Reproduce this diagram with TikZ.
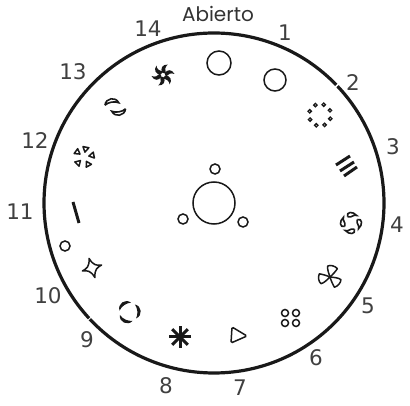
\documentclass[tikz,border=0pt]{standalone}
\usepackage{fontspec}
\setmainfont{Poppins}
\newfontfamily\digitfont{DejaVu Sans}
\tikzset{
  x=1pt,y=-1pt,
  ringline/.style={line width=3.2pt,draw=black!90},
  lab/.style={font=\fontsize{20}{22}\selectfont,text=black!80,inner sep=0pt},
  num/.style={font=\digitfont\fontsize{21.5}{23}\selectfont,text=black!75,inner sep=0pt},
  icon/.style={line width=1.5pt,draw=black!90},
  bar/.style={line width=3pt,draw=black!90}
}
\newcommand{\crescentpath}{(0,-7) .. controls (7,-5) and (7,5) .. (0,7) .. controls (2.5,3) and (2.5,-3) .. (0,-7)}
\begin{document}
\begin{tikzpicture}
\useasboundingbox (0,0) rectangle (410,406);
% ring
\coordinate (c) at (214,203);
\draw[ringline] (c) ++(-44:170) arc[start angle=-44,end angle=-222.7,radius=170];
\draw[ringline] (c) ++(136.9:170) arc[start angle=136.9,end angle=-43.4,radius=170];
% labels
\node[lab] (open) at (218,14) {Abierto};
\node[num] (l1) at (285,33) {1};
\node[num] (l2) at (353,83) {2};
\node[num] (l3) at (393,147) {3};
\node[num] (l4) at (397,225) {4};
\node[num] (l5) at (368,306) {5};
\node[num] (l6) at (316,358) {6};
\node[num] (l7) at (240,388) {7};
\node[num] (l8) at (166,386) {8};
\node[num] (l9) at (87,340) {9};
\node[num] (l10) at (48,296) {10};
\node[num] (l11) at (20,212) {11};
\node[num] (l12) at (35,141) {12};
\node[num] (l13) at (73,72) {13};
\node[num] (l14) at (148,29) {14};
% centre
\draw[icon] (c) circle[radius=21];
\draw[icon] (215,169) circle[radius=5];
\draw[icon] (183,219) circle[radius=5];
\draw[icon] (243,222) circle[radius=5];
% open, 1
\draw[icon] (219,63) circle[radius=12];
\draw[icon] (275,80) circle[radius=11];
% 2 dots
\foreach \a in {20,65,...,335}
  \draw[line width=1.3pt,draw=black!90] (320,115) ++(\a:11) circle[radius=1.7];
% 3 lines
\draw[bar] (336,165) -- (350,156);
\draw[bar] (340,171) -- (354,162);
\draw[bar] (344,176) -- (357,167);
% 4 commas
\begin{scope}[shift={(351,223)}]
\foreach \a in {85,-5,-95,175}
  \draw[line width=1.6pt,draw=black!90,rotate=\a] (6,-4) .. controls (11,-6) and (12,1) .. (8,5) .. controls (9,1) and (5,1) .. (6,-4);
\end{scope}
% 5 fan
\begin{scope}[shift={(330,277)}]
\foreach \a in {75,-170,-40}
  \draw[icon,rotate=\a,line join=round] (0,0) .. controls (3,-2) and (7,-5) .. (10,-5) .. controls (12,-3) and (12,2) .. (10,5) .. controls (7,4) and (3,2) .. (0,0);
\end{scope}
% 6
\foreach \p in {(285,313),(296,313),(285,323),(296,323)}
  \draw[icon] \p circle[radius=3.5];
% 7
\draw[icon,rounded corners=1.5pt] (232,327) -- (247,336) -- (231,343) -- cycle;
% 8 asterisk
\foreach \a in {0,45,90,135}
  \draw[bar] (180,337) ++(\a:11) -- ++(\a+180:22);
% 9 crescents
\begin{scope}[shift={(129,312)}]
\foreach \a in {125,5,-115}
  \fill[black!90,rotate=\a,shift={(6.5,0)}] \crescentpath;
\end{scope}
% 10 star
\begin{scope}[shift={(92,268)},rotate=17]
\draw[icon,line join=round] (10,0) .. controls (5,-1) and (2,-2) .. (0,-10) .. controls (-2,-2) and (-5,-1) .. (-10,0) .. controls (-5,1) and (-2,2) .. (0,10) .. controls (2,2) and (5,1) .. (10,0) -- cycle;
\end{scope}
% small circle, bar
\draw[icon] (65,246) circle[radius=5];
\draw[bar] (73,202) -- (79,223);
% 12
\begin{scope}[shift={(84,157)}]
\foreach \a in {144,79,11,-61,-135}
  \draw[line width=1.5pt,draw=black!90,line join=round,rotate=\a] (5,0) -- (10,-3) -- (10,3) -- cycle;
\end{scope}
% 13
\begin{scope}[shift={(115,107)}]
\draw[line width=1.6pt,draw=black!90,shift={(-3.5,-5)},rotate=100,shift={(-2,0)}] \crescentpath;
\draw[line width=1.6pt,draw=black!90,shift={(4,5)},rotate=-80,shift={(-2,0)}] \crescentpath;
\end{scope}
% 14
\begin{scope}[shift={(163,75)}]
\foreach \a in {0,60,...,300}
  \fill[black!90,rotate=\a] (1.5,-1.5) .. controls (4,-6) and (9,-6) .. (11.5,-1) .. controls (8,-2.5) and (5,-1) .. (3,1.5) -- cycle;
\end{scope}
\end{tikzpicture}
\end{document}
